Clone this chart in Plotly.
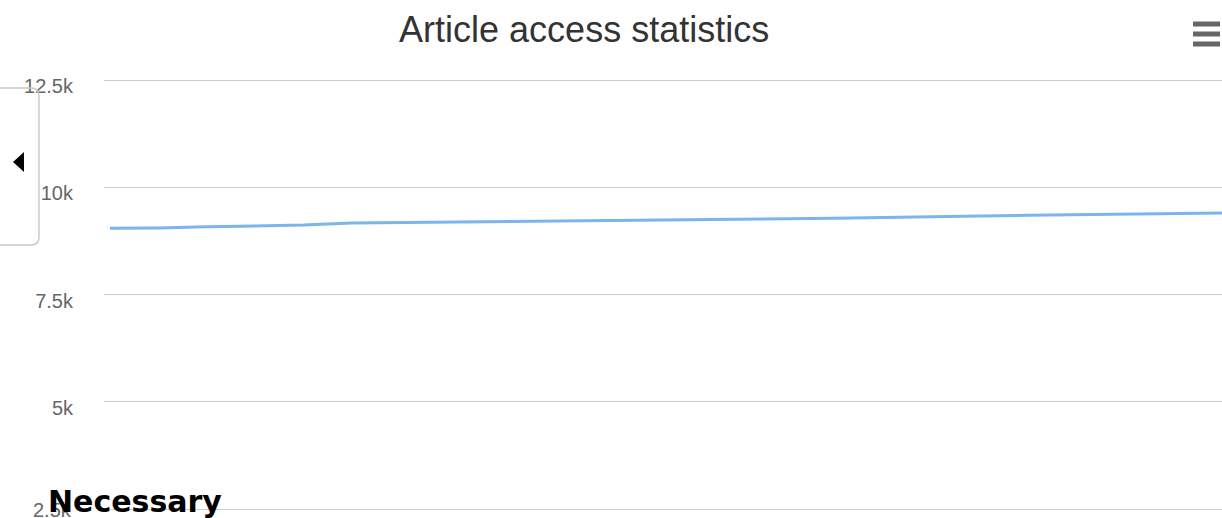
import plotly.graph_objects as go

# ---- data ----
periods = list(range(24))
accesses = [9043, 9050, 9078, 9097, 9120, 9167, 9180, 9190, 9198, 9205, 9215, 9232,
            9248, 9258, 9268, 9278, 9290, 9310, 9330, 9348, 9360, 9375, 9390, 9400]
y_tickvals = [2500, 5000, 7500, 10000, 12500]
y_ticktext = ["2.5k", "5k", "7.5k", "10k", "12.5k"]
title_text = "Article access statistics"
overlay_text = "Necessary"

W, H = 1222, 518
L, R, T, B = 104, 0, 78, 0
PW, PH = W - L - R, H - T - B
PX_PER_K = 42.9
Y_TOP = 12500 + (80 - T) / PX_PER_K * 1000
TICK_FONT = dict(family="Liberation Sans, Arial, sans-serif", size=20, color="#666666")

def px(x):
    return (x - L) / PW

def py(y):
    return 1 - (y - T) / PH

fig = go.Figure()
fig.add_trace(go.Scatter(
    x=periods, y=accesses, mode="lines",
    line=dict(color="#7cb5ec", width=3),
    hoverinfo="skip", showlegend=False,
))

shapes = []
# collapsed legend panel (rounded box, partly off-screen)
shapes.append(dict(
    type="path", xref="paper", yref="paper",
    path=(f"M {px(-10)},{py(88)} L {px(31)},{py(88)} Q {px(39)},{py(88)} {px(39)},{py(96)} "
          f"L {px(39)},{py(237)} Q {px(39)},{py(245)} {px(31)},{py(245)} L {px(-10)},{py(245)}"),
    line=dict(color="#c8c8c8", width=1.4), layer="above",
))
# arrow
shapes.append(dict(
    type="path", xref="paper", yref="paper",
    path=f"M {px(13)},{py(162)} L {px(24)},{py(152)} L {px(24)},{py(172)} Z",
    fillcolor="#000000", line=dict(width=0), layer="above",
))
# hamburger menu
for yy in (24, 34, 44):
    shapes.append(dict(
        type="line", xref="paper", yref="paper",
        x0=px(1193), x1=px(1220), y0=py(yy), y1=py(yy),
        line=dict(color="#666666", width=5), layer="above",
    ))

# bottom tick label is kept inside the chart (pushed up), so draw it as annotation
axis_ticktext = [t if v != y_tickvals[0] else "" for v, t in zip(y_tickvals, y_ticktext)]

annotations = [
    dict(text=y_ticktext[0], xref="paper", yref="y", x=px(74), y=y_tickvals[0],
         xanchor="right", yanchor="middle", yshift=-1, showarrow=False, font=TICK_FONT),
    dict(text=f"<b>{overlay_text}</b>", xref="paper", yref="paper",
         x=px(46), y=py(501), xanchor="left", yanchor="middle", showarrow=False,
         font=dict(family="DejaVu Sans", size=30, color="#000000")),
]

fig.update_layout(
    width=W, height=H,
    margin=dict(l=L, r=R, t=T, b=B, pad=0, autoexpand=False),
    paper_bgcolor="white", plot_bgcolor="white",
    title=dict(text=title_text, x=0.478, xanchor="center", y=1 - 29 / H, yanchor="middle",
               font=dict(family="Liberation Sans, Arial, sans-serif", size=36, color="#333333")),
    xaxis=dict(range=[-6 / 48.35, 23], showgrid=False, showticklabels=False, zeroline=False,
               showline=False, ticks="", automargin=False),
    yaxis=dict(range=[Y_TOP - PH / PX_PER_K * 1000, Y_TOP], tickvals=y_tickvals, ticktext=axis_ticktext,
               showgrid=True, gridcolor="#cccccc", gridwidth=1.2, zeroline=False, showline=False,
               ticks="", ticklabelstandoff=30, ticklabelshift=6, ticklabeloverflow="allow",
               automargin=False, tickfont=TICK_FONT),
    shapes=shapes,
    annotations=annotations,
)

fig.write_html("out.html", config={"displayModeBar": False})
